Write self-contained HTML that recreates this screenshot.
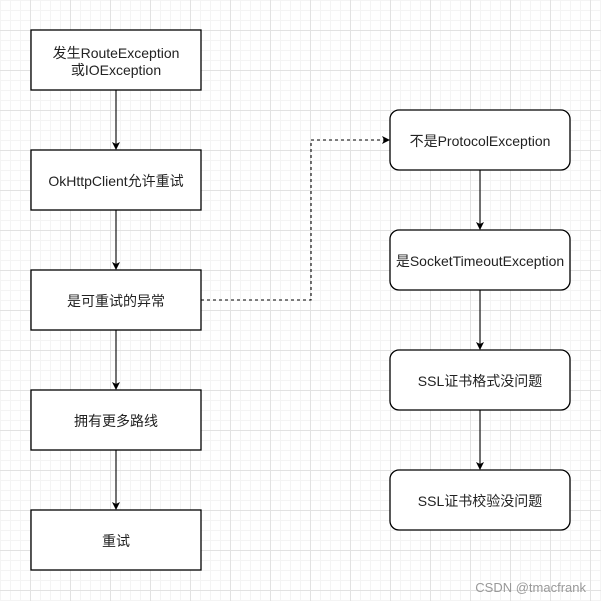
<!DOCTYPE html><html><head><style>
body{margin:0;width:601px;height:601px;overflow:hidden;background:#fff;
background-image:linear-gradient(#e2e2e2 1px,transparent 1px),linear-gradient(90deg,#e2e2e2 1px,transparent 1px),linear-gradient(#f4f4f4 1px,transparent 1px),linear-gradient(90deg,#f4f4f4 1px,transparent 1px);
background-size:40px 40px,40px 40px,10px 10px,10px 10px;background-position:30px 30px,30px 30px,0 0,0 0;font-family:"Liberation Sans","Noto Sans CJK SC",sans-serif}
</style></head><body>
<svg width="601" height="601" style="position:absolute;left:0;top:0" font-family="Liberation Sans, Noto Sans CJK SC, sans-serif" font-size="14" fill="#222">
<defs><marker id="a" markerWidth="8" markerHeight="8" refX="7" refY="4" orient="auto" markerUnits="userSpaceOnUse"><path d="M0,0L8,4L0,8L2,4z" fill="#000"/></marker></defs>
<g stroke="#000" stroke-width="1.3" fill="#fff">
<rect x="31" y="30" width="170" height="60"/>
<rect x="31" y="150" width="170" height="60"/>
<rect x="31" y="270" width="170" height="60"/>
<rect x="31" y="390" width="170" height="60"/>
<rect x="31" y="510" width="170" height="60"/>
<rect x="390" y="110" width="180" height="60" rx="9"/>
<rect x="390" y="230" width="180" height="60" rx="9"/>
<rect x="390" y="350" width="180" height="60" rx="9"/>
<rect x="390" y="470" width="180" height="60" rx="9"/>
</g>
<g stroke="#000" stroke-width="1.1" fill="none" marker-end="url(#a)">
<path d="M116 90V149"/><path d="M116 210V269"/><path d="M116 330V389"/><path d="M116 450V509"/>
<path d="M480 170V229"/><path d="M480 290V349"/><path d="M480 410V469"/>
<path d="M201 300H311V140H389" stroke-dasharray="3,3"/>
</g>
<g text-anchor="middle">
<text x="116" y="58">发生RouteException</text><text x="116" y="75">或IOException</text>
<text x="116" y="186">OkHttpClient允许重试</text>
<text x="116" y="306">是可重试的异常</text>
<text x="116" y="426">拥有更多路线</text>
<text x="116" y="546">重试</text>
<text x="480" y="146">不是ProtocolException</text>
<text x="480" y="266">是SocketTimeoutException</text>
<text x="480" y="386">SSL证书格式没问题</text>
<text x="480" y="506">SSL证书校验没问题</text>
</g>
<text x="586" y="592" text-anchor="end" font-size="13" fill="#999">CSDN @tmacfrank</text>
</svg>
</body></html>
